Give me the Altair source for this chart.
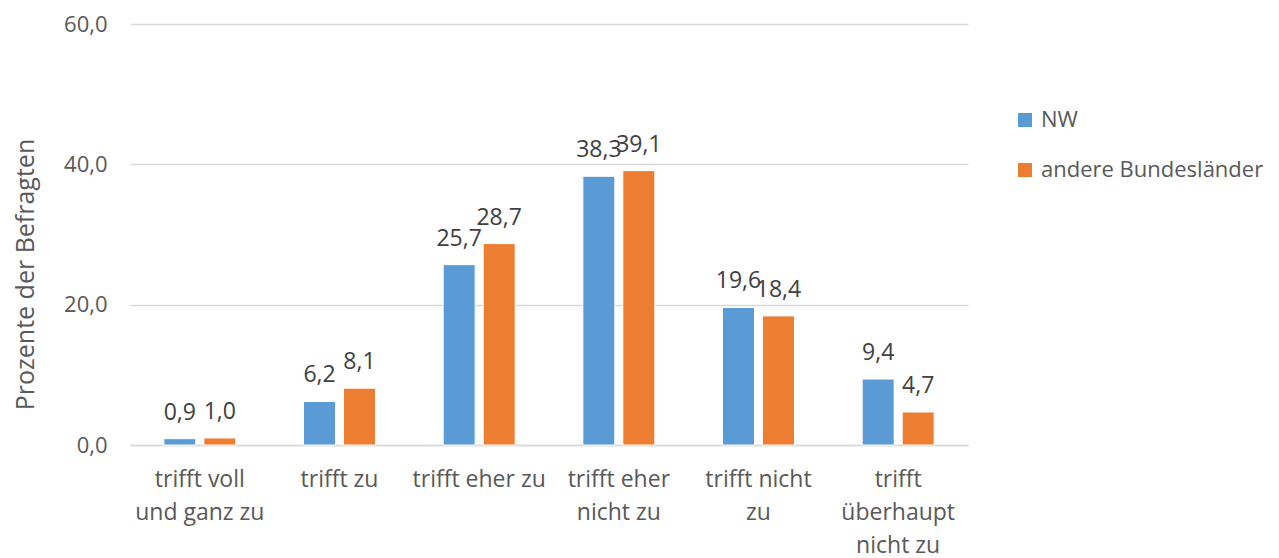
import altair as alt
import pandas as pd
import json

categories = ["trifft voll und ganz zu", "trifft zu", "trifft eher zu",
              "trifft eher nicht zu", "trifft nicht zu", "trifft überhaupt nicht zu"]
cat_lines = [["trifft voll", "und ganz zu"], ["trifft zu"], ["trifft eher zu"],
             ["trifft eher", "nicht zu"], ["trifft nicht", "zu"], ["trifft", "überhaupt", "nicht zu"]]
series = ["NW", "andere Bundesländer"]
nw = [0.9, 6.2, 25.7, 38.3, 19.6, 9.4]
andere = [1.0, 8.1, 28.7, 39.1, 18.4, 4.7]
colors = ["#5B9BD5", "#ED7D31"]

rows = []
for c, a, b in zip(categories, nw, andere):
    rows.append({"cat": c, "series": series[0], "value": a})
    rows.append({"cat": c, "series": series[1], "value": b})
df = pd.DataFrame(rows)

label_map = json.dumps(dict(zip(categories, cat_lines)), ensure_ascii=False)
FONT = "Open Sans"
GREY = "#595959"
FS = 23

base = alt.Chart(df).encode(
    x=alt.X("cat:N", sort=categories,
            scale=alt.Scale(paddingInner=0, paddingOuter=0),
            axis=alt.Axis(title=None, labelAngle=0, labelExpr=f"{label_map}[datum.value]",
                          labelFontSize=FS, labelColor=GREY, labelFont=FONT,
                          labelLineHeight=33, labelPadding=23, ticks=False,
                          domainColor="#d9d9d9", domainWidth=1.3, labelBaseline="top")),
    xOffset=alt.XOffset("series:N", sort=series,
                        scale=alt.Scale(paddingInner=0.2, paddingOuter=0.846)),
    y=alt.Y("value:Q", scale=alt.Scale(domain=[0, 60]),
            axis=alt.Axis(values=[0, 20, 40, 60], title="Prozente der Befragten",
                          labelExpr="replace(format(datum.value, '.1f'), '.', ',')",
                          labelFontSize=22, labelColor=GREY, labelFont=FONT,
                          labelPadding=23, ticks=False, domain=False,
                          gridColor="#d9d9d9", gridWidth=1.3,
                          titleFontSize=25, titleFont=FONT, titleColor=GREY,
                          titleFontWeight="normal", titleX=-105, titleY=250,
                          titleAngle=-90, titleAlign="center", titleBaseline="middle")),
)

bars = base.mark_bar(stroke="white", strokeWidth=1).encode(
    color=alt.Color("series:N", sort=series,
                    scale=alt.Scale(domain=series, range=colors),
                    legend=alt.Legend(title=None, orient="none", legendX=884, legendY=85,
                                      symbolType="square", symbolSize=196,
                                      symbolStrokeWidth=0, labelLimit=400,
                                      labelFontSize=22, labelFont=FONT, labelColor=GREY,
                                      rowPadding=28, labelOffset=5)),
)

texts = base.mark_text(baseline="bottom", dy=-14, fontSize=FS, font=FONT, color="#404040").encode(
    text=alt.Text("label:N"),
).transform_calculate(label="replace(format(datum.value, '.1f'), '.', ',')")

chart = alt.layer(bars, texts).properties(
    width=838, height=421,
    background="white",
    autosize=alt.AutoSizeParams(type="none"),
    padding={"left": 122, "top": 16, "right": 301, "bottom": 130},
).configure_view(stroke=None)

chart.save("out.html", embed_options={"renderer": "svg", "actions": False})
